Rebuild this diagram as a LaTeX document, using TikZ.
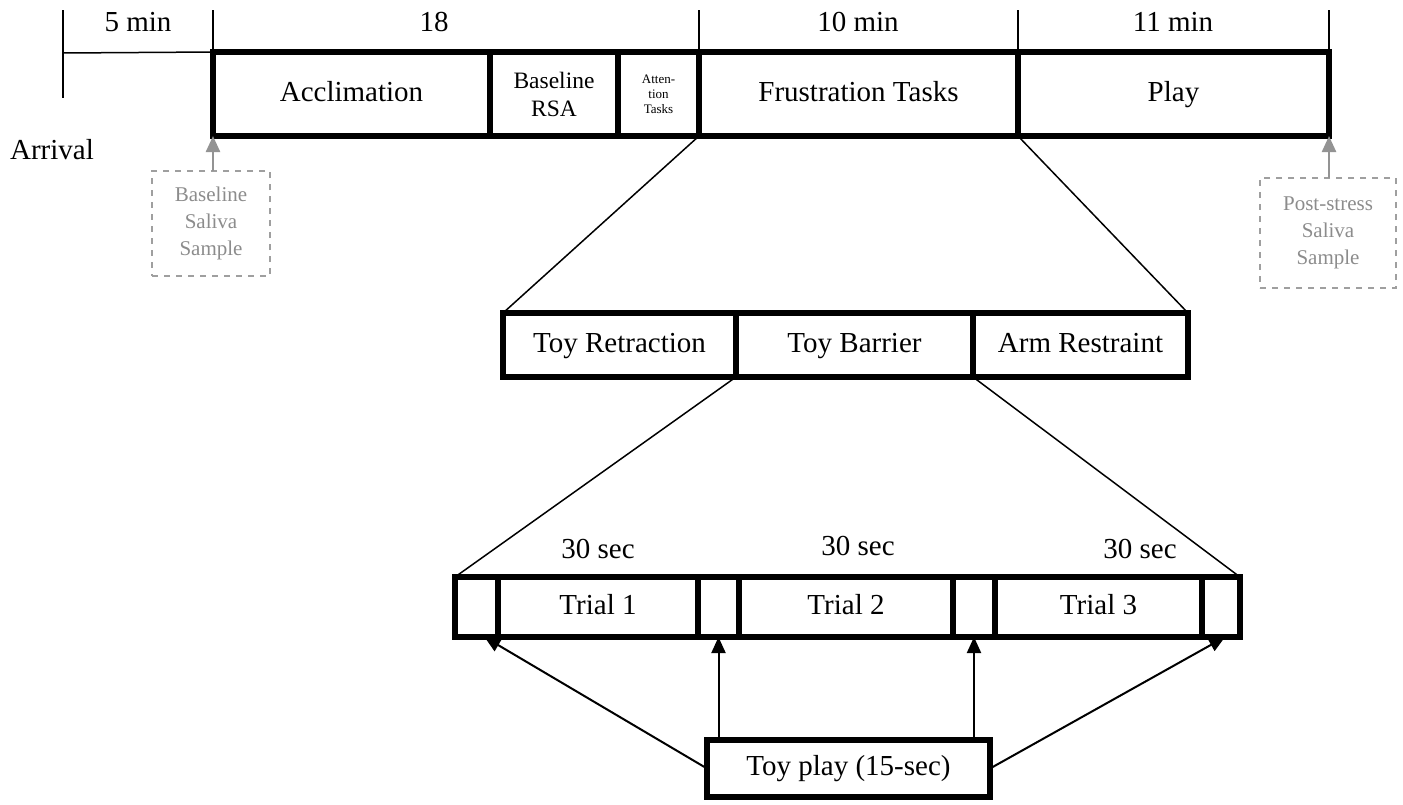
\documentclass[tikz,border=0pt]{standalone}
\usepackage{fontspec}
\setmainfont{Liberation Serif}
\usepackage{tikz}
\usetikzlibrary{positioning,arrows.meta,calc}

\begin{document}
\begin{tikzpicture}[x=0.5pt, y=-0.5pt,
  seg/.style={draw, line width=3pt, inner sep=0pt, outer sep=0pt, align=center,
              font=\fontsize{14.5}{17}\selectfont},
  oneline/.style={text height=10pt, text depth=3pt},
  toprow/.style={seg, minimum height=42pt},
  midrow/.style={seg, oneline, minimum height=32pt},
  trialrow/.style={seg, oneline, minimum height=30pt},
  saliva/.style={draw=gray!75, dashed, line width=0.6pt, inner sep=0pt,
                 outer sep=0pt, align=center, text=gray!90,
                 font=\fontsize{10.5}{13.5}\selectfont},
  lbl/.style={font=\fontsize{14.5}{17}\selectfont, inner sep=1pt},
  tick/.style={line width=0.75pt},
  zoomline/.style={line width=0.75pt},
  garr/.style={-{Triangle[length=8pt, width=7pt]}, line width=1.2pt, gray!85},
  arr/.style={-{Triangle[length=8pt, width=7pt]}, line width=1pt}
]
  \useasboundingbox (0,0) rectangle (1403,804);

  % Top row: session phases
  \node[toprow, oneline, minimum width=138.5pt] (acc) at (351.5,94) {Acclimation};
  \node[toprow, minimum width=64pt, font=\fontsize{11.75}{14}\selectfont]
    (rsa) at (554,94) {Baseline\\RSA};
  \node[toprow, minimum width=40.5pt, font=\fontsize{6.5}{7.5}\selectfont]
    (att) at (658.5,94) {Atten-\\tion\\Tasks};
  \node[toprow, oneline, minimum width=159.5pt] (fru) at (858.5,94) {Frustration Tasks};
  \node[toprow, oneline, minimum width=155.5pt] (play) at (1173.5,94) {Play};

  % Timeline ticks and durations
  \draw[tick] (63,10) -- (63,98);
  \draw[tick] (63,53) -- (acc.north west);
  \foreach \a in {acc.north west, fru.north west, play.north west, play.north east}
    \draw[tick] (\a) -- ++(0,-42);
  \node[lbl] (t5) at (138,22) {5 min};
  \node[lbl] (t18) at (434,22) {18};
  \node[lbl] (t10) at (858,22) {10 min};
  \node[lbl] (t11) at (1173,22) {11 min};
  \node[lbl] (arrival) at (52,150) {Arrival};

  % Saliva samples
  \node[saliva, minimum width=59pt, minimum height=52.5pt] (bsal) at (211,223.5)
    {Baseline\\Saliva\\Sample};
  \draw[garr] (acc.south west |- bsal.north) -- (acc.south west);
  \node[saliva, minimum width=68pt, minimum height=55pt] (psal) at (1328,233)
    {Post-stress\\Saliva\\Sample};
  \draw[garr] (play.south east |- psal.north) -- (play.south east);

  % Frustration tasks
  \node[midrow, minimum width=116.5pt] (ret) at (619.5,345) {Toy Retraction};
  \node[midrow, minimum width=118.5pt] (bar) at (854.5,345) {Toy Barrier};
  \node[midrow, minimum width=107.5pt] (arm) at (1080.5,345) {Arm Restraint};
  \draw[zoomline] (fru.south west) -- (ret.north west);
  \draw[zoomline] (fru.south east) -- (arm.north east);

  % Trials
  \node[trialrow, minimum width=21.5pt] (g0) at (476.5,607) {};
  \node[trialrow, minimum width=100pt] (tr1) at (598,607) {Trial 1};
  \node[trialrow, minimum width=20.5pt] (g1) at (718.5,607) {};
  \node[trialrow, minimum width=107pt] (tr2) at (846,607) {Trial 2};
  \node[trialrow, minimum width=21pt] (g2) at (974,607) {};
  \node[trialrow, minimum width=103.5pt] (tr3) at (1098.5,607) {Trial 3};
  \node[trialrow, minimum width=19pt] (g3) at (1221,607) {};
  \draw[zoomline] (ret.south east) -- (g0.north west);
  \draw[zoomline] (arm.south west) -- (g3.north east);
  \node[lbl] (s1) at (598,549) {30 sec};
  \node[lbl] (s2) at (858,546) {30 sec};
  \node[lbl] (s3) at (1140,549) {30 sec};

  % Toy play between trials
  \node[seg, oneline, minimum width=141.5pt, minimum height=28.5pt] (toy)
    at (848.5,768.5) {Toy play (15-sec)};
  \draw[arr] (toy.west) -- ($(g0.south)+(8,0)$);
  \draw[arr] (g1.south |- toy.north) -- (g1.south);
  \draw[arr] (g2.south |- toy.north) -- (g2.south);
  \draw[arr] (toy.east) -- ($(g3.south)+(4,0)$);
\end{tikzpicture}
\end{document}
